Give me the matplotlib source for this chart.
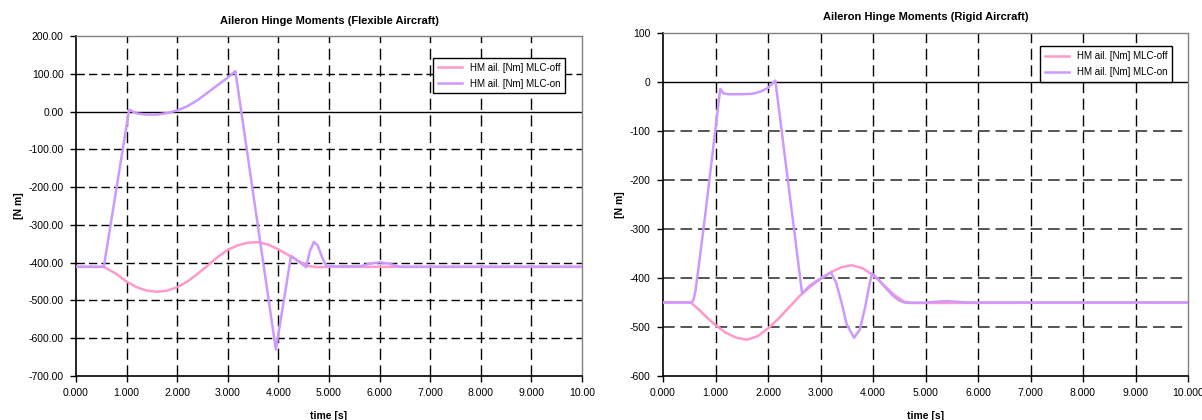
import matplotlib.pyplot as plt
import matplotlib.ticker as mticker

plt.rcParams['font.family'] = ['Liberation Sans', 'DejaVu Sans']

# Flexible aircraft (left panel)
flex_off_t = [0, 0.55, 0.8, 1.0, 1.2, 1.4, 1.6, 1.8, 2.0, 2.2, 2.4, 2.6, 2.8, 3.0,
              3.2, 3.4, 3.6, 3.8, 4.0, 4.2, 4.4, 4.6, 4.8, 5.0, 10]
flex_off_v = [-411, -411, -430, -450, -465, -474, -477, -474, -465, -450, -430, -408,
              -385, -366, -354, -347, -346, -352, -365, -380, -396, -409, -412, -411, -411]
flex_on_t = [0, 0.55, 1.05, 1.2, 1.4, 1.6, 1.8, 2.0, 2.2, 2.4, 2.6, 2.8, 3.0, 3.15,
             3.95, 4.25, 4.35, 4.45, 4.55, 4.62, 4.7, 4.78, 4.86, 4.95, 5.2, 5.6, 5.8,
             6.0, 6.2, 6.4, 10]
flex_on_v = [-411, -411, 5, -5, -8, -8, -4, 3, 14, 30, 50, 70, 90, 107,
             -630, -382, -392, -402, -412, -370, -345, -355, -385, -410, -410, -410, -403,
             -399, -403, -411, -411]

# Rigid aircraft (right panel)
rigid_off_t = [0, 0.53, 0.7, 0.85, 1.0, 1.2, 1.4, 1.6, 1.8, 2.0, 2.2, 2.4, 2.6, 2.8,
               3.0, 3.2, 3.4, 3.6, 3.8, 4.0, 4.2, 4.4, 4.6, 4.8, 10]
rigid_off_v = [-450, -450, -466, -482, -496, -512, -522, -526, -519, -503, -483, -460,
               -437, -418, -402, -388, -378, -374, -380, -394, -414, -434, -449, -451, -450]
rigid_on_t = [0, 0.53, 0.58, 0.62, 0.7, 0.8, 0.9, 1.0, 1.09, 1.15, 1.25, 1.5, 1.7, 1.85,
              2.0, 2.14, 2.65, 2.8, 3.0, 3.2, 3.3, 3.4, 3.5, 3.64, 3.75, 3.85, 3.92, 3.98,
              4.1, 4.2, 4.3, 4.4, 4.5, 4.6, 4.7, 5.0, 5.4, 5.8, 10]
rigid_on_v = [-450, -450, -445, -425, -360, -275, -185, -95, -14, -23, -25, -25, -24, -20,
              -12, 3, -432, -415, -401, -389, -410, -450, -495, -522, -505, -460, -420, -391,
              -402, -415, -427, -438, -446, -450, -451, -450, -447, -450, -450]

label_off = 'HM ail. [Nm] MLC-off'
label_on = 'HM ail. [Nm] MLC-on'
c_off = '#ff99cc'
c_on = '#cc99ff'

fig = plt.figure(figsize=(12.02, 4.2), dpi=100)
ax1 = fig.add_axes([76 / 1202, 44 / 420, 506 / 1202, 340 / 420])
ax2 = fig.add_axes([663 / 1202, 44 / 420, 525 / 1202, 343 / 420])


def style_axes(ax, ylim, ystep, yfmt, xlabels, hgrid_color, hgrid_lw, title):
    ax.set_xlim(0, 10)
    ax.set_ylim(*ylim)
    ax.yaxis.set_major_locator(mticker.MultipleLocator(ystep))
    ax.set_xticks(range(11))
    ax.set_xticklabels(xlabels)
    ax.yaxis.set_major_formatter(mticker.FuncFormatter(yfmt))
    ax.tick_params(direction='out', length=4, width=1, labelsize=7.5, colors='black', pad=5)
    for x in range(1, 10):
        ax.axvline(x, color='black', lw=1, ls=(0, (8, 4)), zorder=1)
    y = ylim[0] + ystep
    while y < ylim[1]:
        if y != 0:
            ax.axhline(y, color=hgrid_color, lw=hgrid_lw, ls=(0, (6, 3)), zorder=1)
        y += ystep
    ax.axhline(0, color='black', lw=1, zorder=1)
    for s in ['left', 'bottom']:
        ax.spines[s].set_color('black')
        ax.spines[s].set_linewidth(1.2)
    for s in ['top', 'right']:
        ax.spines[s].set_color('#808080')
        ax.spines[s].set_linewidth(1)
    ax.set_title(title, fontsize=8, fontweight='bold', pad=9)
    ax.set_xlabel('time [s]', fontsize=7.5, fontweight='bold', labelpad=9)
    ax.set_ylabel('[N m]', fontsize=7.5, fontweight='bold', labelpad=3)


ax1.plot(flex_off_t, flex_off_v, color=c_off, lw=1.8, label=label_off, zorder=3)
ax1.plot(flex_on_t, flex_on_v, color=c_on, lw=1.8, label=label_on, zorder=4)
style_axes(ax1, (-700, 200), 100, lambda v, p: f'{v:.2f}',
           [f'{i:.3f}' for i in range(10)] + ['10.00'], 'black', 1,
           'Aileron Hinge Moments (Flexible Aircraft)')

ax2.plot(rigid_off_t, rigid_off_v, color=c_off, lw=1.8, label=label_off, zorder=3)
ax2.plot(rigid_on_t, rigid_on_v, color=c_on, lw=1.8, label=label_on, zorder=4)
style_axes(ax2, (-600, 100), 100, lambda v, p: f'{v:.0f}',
           [f'{i:.3f}' for i in range(11)], '#555555', 1.4,
           'Aileron Hinge Moments (Rigid Aircraft)')

for ax, anchor in [(ax1, (0.976, 0.95)), (ax2, (0.979, 0.975))]:
    leg = ax.legend(loc='upper right', bbox_to_anchor=anchor, fontsize=7,
                    fancybox=False, framealpha=1, edgecolor='black',
                    handlelength=2.5, borderpad=0.5, labelspacing=0.6)
    leg.get_frame().set_linewidth(1)

fig.savefig('out.png', dpi=100)
